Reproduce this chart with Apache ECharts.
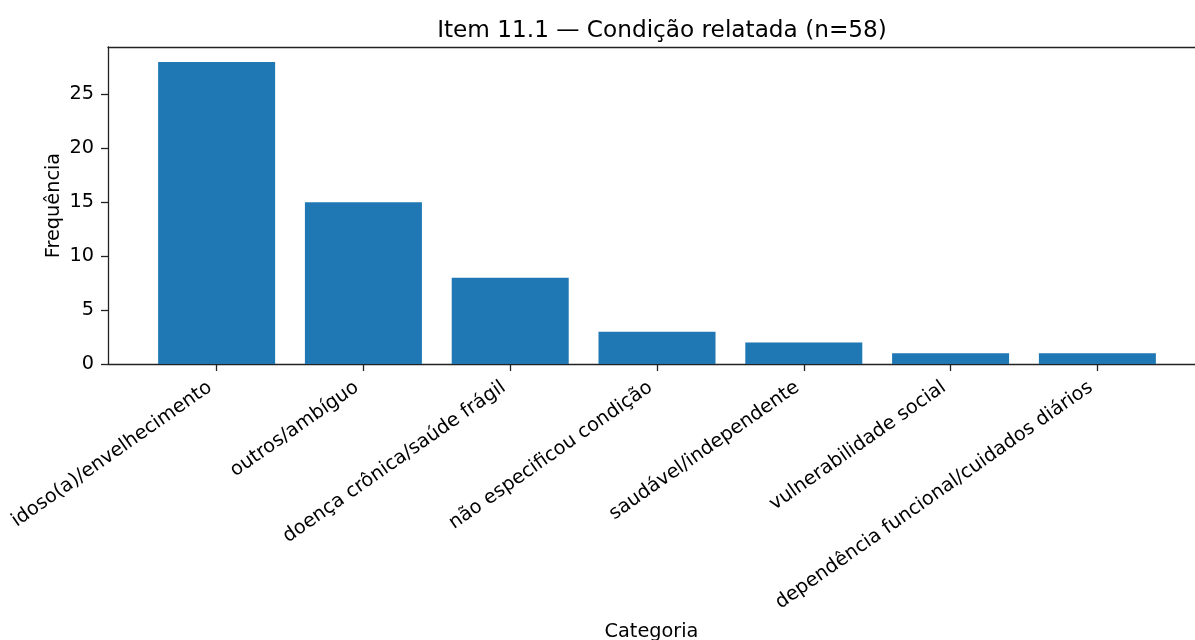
<!DOCTYPE html>
<html>
<head>
<meta charset="utf-8">
<script src="https://cdn.jsdelivr.net/npm/echarts@6/dist/echarts.min.js"></script>
<style>html,body{margin:0;padding:0;background:#fff}#c{width:1195px;height:640px}</style>
</head>
<body>
<div id="c"></div>
<script>
const categories = ["idoso(a)/envelhecimento","outros/ambíguo","doença crônica/saúde frágil","não especificou condição","saudável/independente","vulnerabilidade social","dependência funcional/cuidados diários"];
const values = [28, 15, 8, 3, 2, 1, 1];
const yTicks = [0, 5, 10, 15, 20, 25];

const font = "DejaVu Sans";
const spine = {color: '#222', width: 1.3};
const chart = echarts.init(document.getElementById('c'));
chart.setOption({
  animation: false,
  textStyle: {fontFamily: font},
  title: {
    text: "Item 11.1 — Condição relatada (n=58)",
    left: 657, top: 14, textAlign: 'center',
    textStyle: {fontFamily: font, fontSize: 23.2, fontWeight: 'normal', color: '#000'}
  },
  grid: {left: 108, top: 47, right: 0, bottom: 276, containLabel: false, outerBoundsMode: 'none'},
  xAxis: [{
    type: 'value', min: -0.74, max: 6.665,
    name: 'Categoria', nameLocation: 'middle', nameGap: 258, nameMoveOverlap: false,
    nameTextStyle: {fontFamily: font, fontSize: 19.3, color: '#000'},
    axisLine: {show: true, onZero: false, lineStyle: spine},
    axisTick: {show: true, length: 7, lineStyle: spine, customValues: categories.map((c, i) => i)},
    axisLabel: {
      customValues: categories.map((c, i) => i),
      formatter: v => categories[Math.round(v)],
      rotate: 35, fontSize: 19.3, color: '#000', fontFamily: font, margin: 17,
      padding: [0, 8, 0, 0]
    },
    splitLine: {show: false}
  }, {
    type: 'value', position: 'top', min: -0.74, max: 6.665,
    axisLine: {show: true, onZero: false, lineStyle: spine},
    axisTick: {show: false}, axisLabel: {show: false}, splitLine: {show: false}
  }],
  yAxis: {
    type: 'value', min: 0, max: 29.4, interval: 5,
    name: 'Frequência', nameLocation: 'middle', nameGap: 45, nameMoveOverlap: false,
    nameTextStyle: {fontFamily: font, fontSize: 19.3, color: '#000'},
    axisLine: {show: true, onZero: false, lineStyle: spine},
    axisTick: {show: true, length: 7, lineStyle: spine, customValues: yTicks},
    axisLabel: {
      customValues: yTicks,
      fontSize: 19.3, color: '#000', fontFamily: font, margin: 14
    },
    splitLine: {show: false}
  },
  series: [{
    type: 'bar',
    xAxisIndex: 0,
    data: values.map((v, i) => [i, v]),
    barWidth: 117,
    itemStyle: {color: '#1f77b4'}
  }]
});
</script>
</body>
</html>
